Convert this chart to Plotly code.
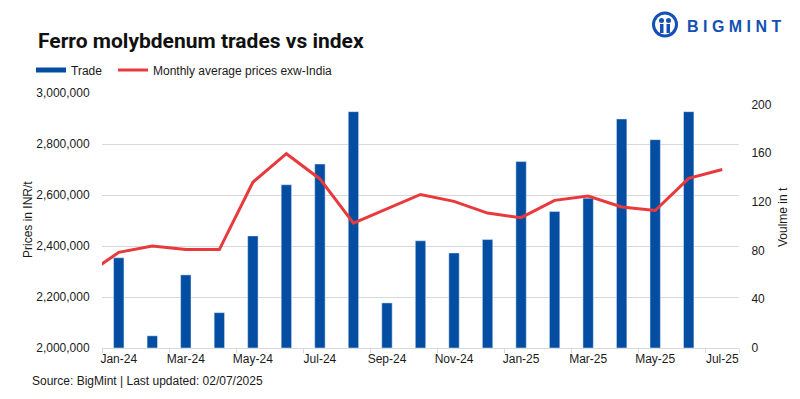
import plotly.graph_objects as go

# ---- data ----
months = ["Dec-23", "Jan-24", "Feb-24", "Mar-24", "Apr-24", "May-24", "Jun-24", "Jul-24",
          "Aug-24", "Sep-24", "Oct-24", "Nov-24", "Dec-24", "Jan-25", "Feb-25", "Mar-25",
          "Apr-25", "May-25", "Jun-25", "Jul-25"]
trade_volume_t = [None, 74, 10, 60, 29, 92, 134, 151, 194, 37, 88, 78, 89, 153, 112, 123,
                  188, 171, 194, None]
avg_price_inr = [2285000, 2375000, 2400000, 2386000, 2386000, 2650000, 2762000, 2663000,
                 2490000, 2546000, 2602000, 2575000, 2529000, 2511000, 2579000, 2596000,
                 2553000, 2539000, 2665000, 2700000]
x_tick_labels = ["Jan-24", "Mar-24", "May-24", "Jul-24", "Sep-24", "Nov-24", "Jan-25",
                 "Mar-25", "May-25", "Jul-25"]
price_ticks = [2000000, 2200000, 2400000, 2600000, 2800000, 3000000]
volume_ticks = [0, 40, 80, 120, 160, 200]

BLUE = "#034EA2"
RED = "#E8393C"
GRID = "#D9D9D9"
TXT = "#1a1a1a"
FONT = "Liberation Sans, Arial, sans-serif"

# plot-area pixel geometry (for placing text outside the plot)
L, R, T, B = 102, 739, 93, 348
W, H = R - L, B - T


def px(x):
    return (x - L) / W


def py(y):
    return (B - y) / H


fig = go.Figure()

fig.add_trace(go.Bar(
    x=months, y=trade_volume_t, name="Trade", marker_color=BLUE, width=0.31,
    yaxis="y", showlegend=False,
))
# legend entry for the bars, drawn as a thick line like the original
fig.add_trace(go.Scatter(
    x=[None], y=[None], mode="lines", name="Trade", legend="legend",
    line=dict(color=BLUE, width=5), yaxis="y", hoverinfo="skip",
))
fig.add_trace(go.Scatter(
    x=months, y=avg_price_inr, mode="lines", name="Monthly average prices exw-India",
    legend="legend2", line=dict(color=RED, width=3), yaxis="y2", cliponaxis=True,
))

legend_common = dict(orientation="h", xref="container", yref="container",
                     xanchor="left", y=1 - 70 / 399, yanchor="middle",
                     font=dict(size=12, color=TXT), bgcolor="rgba(0,0,0,0)",
                     itemwidth=30)

fig.update_layout(
    width=800, height=399,
    margin=dict(l=L, r=800 - R, t=T, b=399 - B, autoexpand=False),
    paper_bgcolor="white", plot_bgcolor="white",
    font=dict(family=FONT, size=12, color=TXT),
    title=dict(text="<b>Ferro molybdenum trades vs index</b>",
               font=dict(family="Roboto, Liberation Sans, sans-serif", size=21, color="#111111"),
               x=38 / 800, xanchor="left", xref="container",
               y=1 - 41 / 399, yanchor="middle", yref="container"),
    showlegend=True,
    legend=dict(x=31 / 800, **legend_common),
    legend2=dict(x=113 / 800, **legend_common),
    xaxis=dict(type="category", categoryorder="array", categoryarray=months,
               range=[0.5, len(months) - 0.5],
               tickmode="array", tickvals=x_tick_labels, tickson="boundaries",
               ticks="outside", ticklen=4, tickcolor=GRID, tickangle=0,
               showline=True, linecolor=GRID, linewidth=1,
               showgrid=False, tickfont=dict(size=12, color=TXT)),
    yaxis=dict(side="right", range=[0, 209.3], tickmode="array", tickvals=volume_ticks,
               showgrid=False, zeroline=False, showline=False,
               ticks="outside", ticklen=9, tickcolor="rgba(0,0,0,0)",
               tickfont=dict(size=12, color=TXT)),
    yaxis2=dict(side="left", overlaying="y", range=[2000000, 3000000],
                tickmode="array", tickvals=price_ticks, tickformat=",",
                showgrid=True, gridcolor=GRID, gridwidth=1, zeroline=False,
                showline=False, ticks="outside", ticklen=9,
                tickcolor="rgba(0,0,0,0)", tickfont=dict(size=12, color=TXT)),
)

annotations = [
    dict(text="Prices in INR/t", x=px(28), y=py(220), xref="paper", yref="paper",
         textangle=-90, showarrow=False, font=dict(size=12, color=TXT),
         xanchor="center", yanchor="middle"),
    dict(text="Voulme in t", x=px(783), y=py(217), xref="paper", yref="paper",
         textangle=-90, showarrow=False, font=dict(size=12, color=TXT),
         xanchor="center", yanchor="middle"),
    dict(text="Source: BigMint | Last updated: 02/07/2025", x=px(30), y=py(381),
         xref="paper", yref="paper", showarrow=False, font=dict(size=12, color=TXT),
         xanchor="left", yanchor="middle"),
    dict(text="<b>B I G M I N T</b>", x=px(685), y=py(26.5), xref="paper", yref="paper",
         showarrow=False, font=dict(family="Liberation Sans, Arial, sans-serif", size=16, color="#1450B4"),
         xanchor="left", yanchor="middle"),
]
fig.update_layout(annotations=annotations)

# logo roundel
shapes = [
    dict(type="circle", xref="paper", yref="paper",
         x0=px(653.5), x1=px(676.5), y0=py(36), y1=py(13),
         line=dict(color="#1450B4", width=3), fillcolor="white"),
    dict(type="circle", xref="paper", yref="paper",
         x0=px(659), x1=px(664), y0=py(23), y1=py(18),
         line=dict(width=0), fillcolor="#1450B4"),
    dict(type="circle", xref="paper", yref="paper",
         x0=px(666), x1=px(671), y0=py(23), y1=py(18),
         line=dict(width=0), fillcolor="#1450B4"),
    dict(type="rect", xref="paper", yref="paper",
         x0=px(660), x1=px(663.5), y0=py(33), y1=py(24),
         line=dict(width=0), fillcolor="#1450B4"),
    dict(type="rect", xref="paper", yref="paper",
         x0=px(666.5), x1=px(670), y0=py(33), y1=py(24),
         line=dict(width=0), fillcolor="#1450B4"),
]
fig.update_layout(shapes=shapes)

fig.write_html("out.html", config={"displayModeBar": False},
               post_script="document.body.style.margin='0';")
